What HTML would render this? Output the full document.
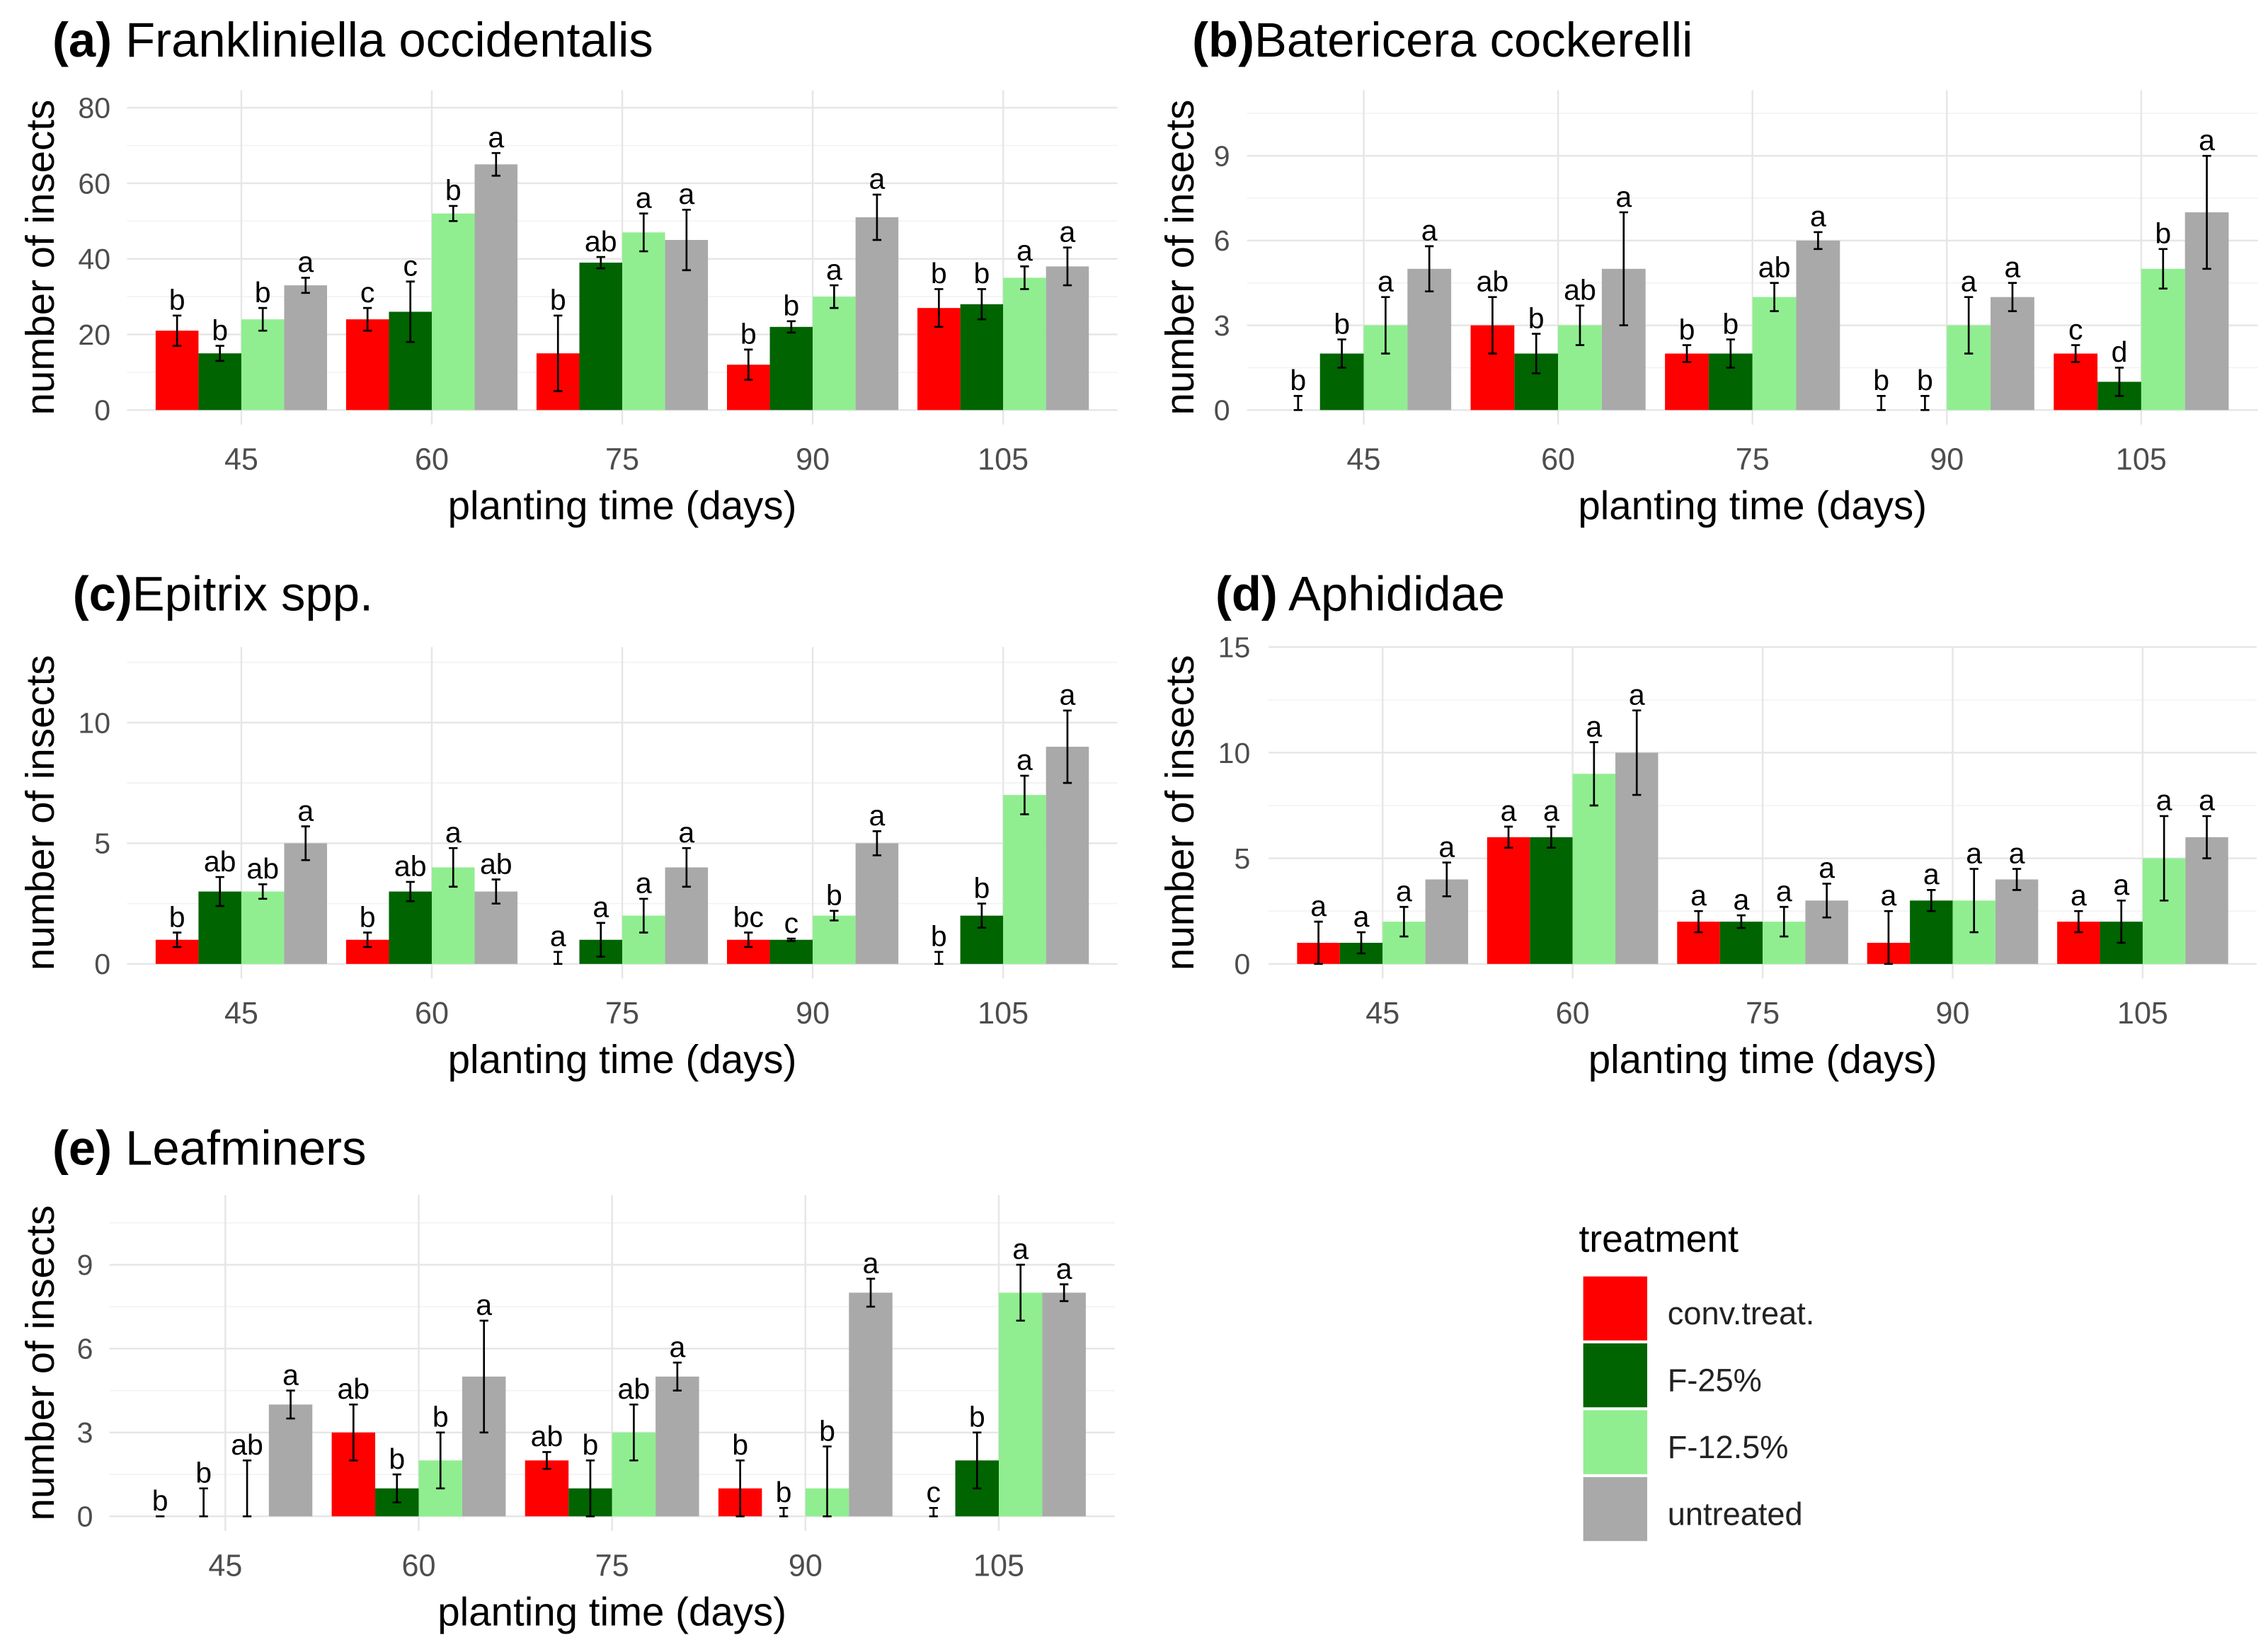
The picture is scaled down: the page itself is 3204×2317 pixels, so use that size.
<!DOCTYPE html>
<html><head><meta charset="utf-8">
<style>
html,body{margin:0;padding:0;background:#fff;}
svg{display:block;font-family:"Liberation Sans",Arial,sans-serif;}
</style></head>
<body>
<svg id="chart" width="3204" height="2317" viewBox="0 0 1560 1128" xmlns="http://www.w3.org/2000/svg">
<g>
<text x="1086" y="861" font-size="26" fill="#000">treatment</text>
<rect x="1089" y="878" width="44" height="44" fill="#ff0000"/>
<rect x="1089" y="924" width="44" height="44" fill="#006400"/>
<rect x="1089" y="970" width="44" height="44" fill="#90ee90"/>
<rect x="1089" y="1016" width="44" height="44" fill="#a9a9a9"/>
<text x="1147" y="911" font-size="22" fill="#222">conv.treat.</text>
<text x="1147" y="957" font-size="22" fill="#222">F-25%</text>
<text x="1147" y="1003" font-size="22" fill="#222">F-12.5%</text>
<text x="1147" y="1049" font-size="22" fill="#222">untreated</text>
</g>
</svg>
<script>
const categories = ["45","60","75","90","105"];
const seriesNames = ["conv.treat.","F-25%","F-12.5%","untreated"];
const seriesColors = ["#ff0000","#006400","#90ee90","#a9a9a9"];

// (a) Frankliniella occidentalis
const aConv = [21,24,15,12,27], aConvErr = [4,3,10,4,5];
const aF25 = [15,26,39,22,28], aF25Err = [2,8,1.5,1.5,4];
const aF125 = [24,52,47,30,35], aF125Err = [3,2,5,3,3];
const aUnt = [33,65,45,51,38], aUntErr = [2,3,8,6,5];
const aLetters = [["b","c","b","b","b"],["b","c","ab","b","b"],["b","b","a","a","a"],["a","a","a","a","a"]];
const aTicks = [0,20,40,60,80];

// (b) Batericera cockerelli
const bConv = [0,3,2,0,2], bConvErr = [0.5,1,0.3,0.5,0.3];
const bF25 = [2,2,2,0,1], bF25Err = [0.5,0.7,0.5,0.5,0.5];
const bF125 = [3,3,4,3,5], bF125Err = [1,0.7,0.5,1,0.7];
const bUnt = [5,5,6,4,7], bUntErr = [0.8,2,0.3,0.5,2];
const bLetters = [["b","ab","b","b","c"],["b","b","b","b","d"],["a","ab","ab","a","b"],["a","a","a","a","a"]];
const bTicks = [0,3,6,9];

// (c) Epitrix spp.
const cConv = [1,1,0,1,0], cConvErr = [0.3,0.3,0.5,0.3,0.5];
const cF25 = [3,3,1,1,2], cF25Err = [0.6,0.4,0.7,0.05,0.5];
const cF125 = [3,4,2,2,7], cF125Err = [0.3,0.8,0.7,0.2,0.8];
const cUnt = [5,3,4,5,9], cUntErr = [0.7,0.5,0.8,0.5,1.5];
const cLetters = [["b","b","a","bc","b"],["ab","ab","a","c","b"],["ab","a","a","b","a"],["a","ab","a","a","a"]];
const cTicks = [0,5,10];

// (d) Aphididae
const dConv = [1,6,2,1,2], dConvErr = [1,0.5,0.5,1.5,0.5];
const dF25 = [1,6,2,3,2], dF25Err = [0.5,0.5,0.3,0.5,1];
const dF125 = [2,9,2,3,5], dF125Err = [0.7,1.5,0.7,1.5,2];
const dUnt = [4,10,3,4,6], dUntErr = [0.8,2,0.8,0.5,1];
const dLetters = [["a","a","a","a","a"],["a","a","a","a","a"],["a","a","a","a","a"],["a","a","a","a","a"]];
const dTicks = [0,5,10,15];

// (e) Leafminers
const eConv = [0,3,2,1,0], eConvErr = [0,1,0.3,1,0.3];
const eF25 = [0,1,1,0,2], eF25Err = [1,0.5,1,0.3,1];
const eF125 = [0,2,3,1,8], eF125Err = [2,1,1,1.5,1];
const eUnt = [4,5,5,8,8], eUntErr = [0.5,2,0.5,0.5,0.3];
const eLetters = [["b","ab","ab","b","c"],["b","b","b","b","b"],["ab","b","ab","b","a"],["a","a","a","a","a"]];
const eTicks = [0,3,6,9];

const NS = "http://www.w3.org/2000/svg";
const svg = document.getElementById("chart");
function mk(tag, attrs, parent){
  const el = document.createElementNS(NS, tag);
  for (const k in attrs) el.setAttribute(k, attrs[k]);
  (parent||svg).appendChild(el);
  return el;
}

function panel(cfg){
  const g = mk("g", {});
  
  
  const yScale = v => cfg.y0 - v * cfg.ppu;
  const xScale = i => cfg.c0 + i * cfg.step;
  const bottom = cfg.y0 + 10;
  const left = xScale(0) - 0.6*cfg.step, right = xScale(categories.length-1) + 0.6*cfg.step;
  const tstep = cfg.ticks[1]-cfg.ticks[0];
  for (let t = tstep/2; yScale(t) >= cfg.top; t += tstep){
    const l = mk("line", {x1:left,x2:right,y1:yScale(t),y2:yScale(t),stroke:"#f2f2f2","stroke-width":0.8}, g);
    
    
  }
  cfg.ticks.forEach(t=>{
    const l = mk("line", {x1:left,x2:right,y1:yScale(t),y2:yScale(t),stroke:"#e6e6e6","stroke-width":1.2}, g);
    
    
    const tx = mk("text", {x:cfg.tickX,y:yScale(t)+7,"font-size":20,"text-anchor":"end",fill:"#4d4d4d"}, g);
    tx.textContent = t;
    
    
  });
  categories.forEach((c,i)=>{
    const l = mk("line", {x1:xScale(i),x2:xScale(i),y1:cfg.top,y2:bottom,stroke:"#e6e6e6","stroke-width":1.2}, g);
    
    
    const tx = mk("text", {x:xScale(i),y:cfg.y0+41,"font-size":21,"text-anchor":"middle",fill:"#4d4d4d"}, g);
    tx.textContent = c;
    
    
  });
  const bw = cfg.step*0.225;
  cfg.series.forEach((s,si)=>{
    s.vals.forEach((v,i)=>{
      const x = xScale(i) - 2*bw + si*bw;
      if (v > 0){
        const r = mk("rect", {x:x,y:yScale(v),width:bw,height:yScale(0)-yScale(v),fill:seriesColors[si]}, g);
        
        
      }
      const cx = x + bw/2;
      const lo = Math.max(0, v - s.err[i]), hi = v + s.err[i];
      const eb = mk("path", {d:`M${cx-3},${yScale(hi)}H${cx+3}M${cx},${yScale(hi)}V${yScale(lo)}M${cx-3},${yScale(lo)}H${cx+3}`, stroke:"#000","stroke-width":1.3, fill:"none"}, g);
      
      
      const lt = mk("text", {x:cx,y:yScale(hi)-4,"font-size":20,"text-anchor":"middle",fill:"#000"}, g);
      lt.textContent = cfg.letters[si][i];
      
      
    });
  });
  const yt = mk("text", {x:cfg.ytX,y:(cfg.top+bottom)/2,"font-size":27.5,"text-anchor":"middle",fill:"#000",transform:`rotate(-90 ${cfg.ytX} ${(cfg.top+bottom)/2})`}, g);
  yt.textContent = "number of insects";
  
  
  const xt = mk("text", {x:(left+right)/2,y:cfg.y0+75,"font-size":27.5,"text-anchor":"middle",fill:"#000"}, g);
  xt.textContent = "planting time (days)";
  
  
  const tt = mk("text", {x:cfg.titleX,y:cfg.titleY,"font-size":33.5,fill:"#000"}, g);
  
  
  const b1 = mk("tspan", {"font-weight":"bold"}, tt); b1.textContent = cfg.tag;
  const b2 = mk("tspan", {}, tt); b2.textContent = cfg.title;
}

function S(v,e){return {vals:v,err:e};}
panel({name:"panel-a",y0:282,ppu:2.6,top:62,ticks:aTicks,c0:166,step:131,tickX:76,ytX:37,titleX:36,titleY:39,tag:"(a)",title:" Frankliniella occidentalis",
  series:[S(aConv,aConvErr),S(aF25,aF25Err),S(aF125,aF125Err),S(aUnt,aUntErr)],letters:aLetters});
panel({name:"panel-b",y0:282,ppu:19.43,top:62,ticks:bTicks,c0:938,step:133.7,tickX:846,ytX:821,titleX:820,titleY:39,tag:"(b)",title:"Batericera cockerelli",
  series:[S(bConv,bConvErr),S(bF25,bF25Err),S(bF125,bF125Err),S(bUnt,bUntErr)],letters:bLetters});
panel({name:"panel-c",y0:663,ppu:16.6,top:445,ticks:cTicks,c0:166,step:131,tickX:76,ytX:37,titleX:50,titleY:420,tag:"(c)",title:"Epitrix spp.",
  series:[S(cConv,cConvErr),S(cF25,cF25Err),S(cF125,cF125Err),S(cUnt,cUntErr)],letters:cLetters});
panel({name:"panel-d",y0:663,ppu:14.53,top:445,ticks:dTicks,c0:951,step:130.7,tickX:860,ytX:821,titleX:836,titleY:420,tag:"(d)",title:" Aphididae",
  series:[S(dConv,dConvErr),S(dF25,dF25Err),S(dF125,dF125Err),S(dUnt,dUntErr)],letters:dLetters});
panel({name:"panel-e",y0:1043,ppu:19.23,top:822,ticks:eTicks,c0:155,step:133,tickX:64,ytX:37,titleX:36,titleY:801,tag:"(e)",title:"  Leafminers",
  series:[S(eConv,eConvErr),S(eF25,eF25Err),S(eF125,eF125Err),S(eUnt,eUntErr)],letters:eLetters});
</script>
</body></html>
